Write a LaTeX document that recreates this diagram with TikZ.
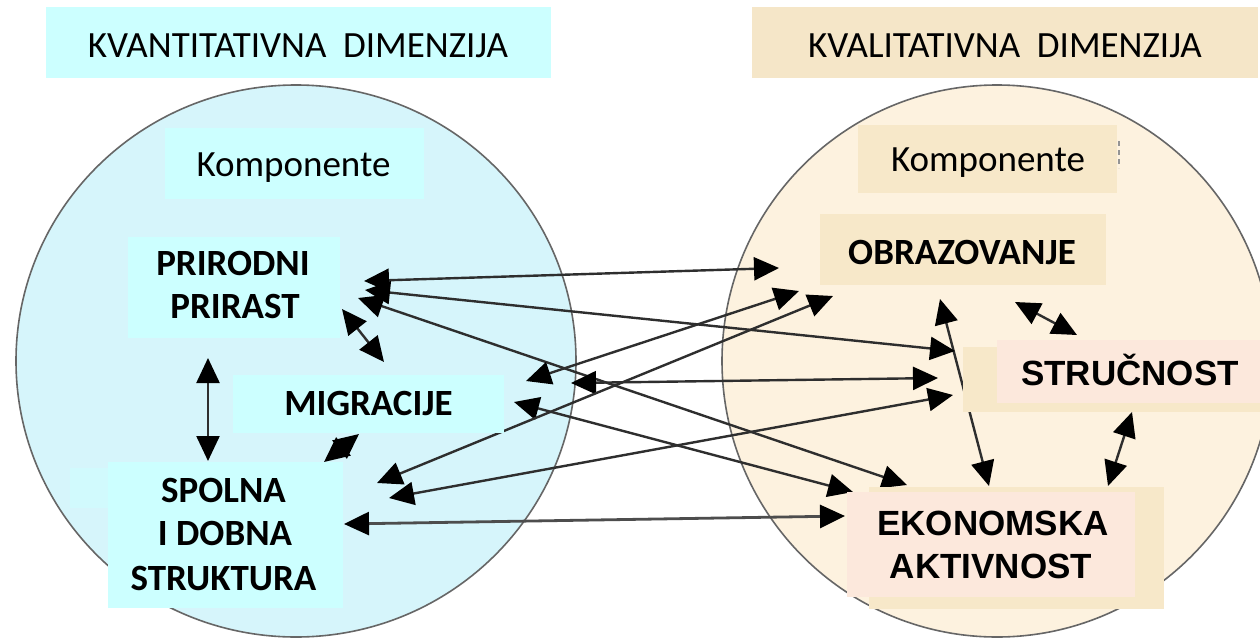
\documentclass[tikz,border=0pt]{standalone}
\usepackage{fontspec}
\setmainfont{Carlito}
\newfontfamily\arialfont{Liberation Sans}
\usetikzlibrary{arrows.meta}
\definecolor{cyantitle}{HTML}{CCFFFF}
\definecolor{cyancirc}{HTML}{D6F5FB}
\definecolor{cyanbox}{HTML}{CCFFFF}
\definecolor{tantitle}{HTML}{F5E6C8}
\definecolor{tancirc}{HTML}{FDF2DF}
\definecolor{tanbox}{HTML}{F7E8C9}
\definecolor{pinkbox}{HTML}{FCE8DC}
\definecolor{arrline}{HTML}{2E2E2E}
\definecolor{circline}{HTML}{666666}
\tikzset{
  bgbox/.style={draw=none, inner sep=0pt, outer sep=0pt, anchor=north west},
  reg/.style={font=\fontsize{37}{42}\selectfont, anchor=base, inner sep=0pt},
  bld/.style={font=\fontsize{37}{42}\selectfont\bfseries, anchor=base, inner sep=0pt},
  arl/.style={font=\fontsize{35}{42}\selectfont\arialfont\bfseries, anchor=base, inner sep=0pt},
  dbl/.style={draw=arrline, line width=2.4pt,
    {Triangle[length=25pt,width=23pt,color=black]}-{Triangle[length=25pt,width=23pt,color=black]}},
  circ/.style={draw=circline, line width=1.6pt}
}
\begin{document}
\begin{tikzpicture}[x=1pt,y=-1pt]
\useasboundingbox (0,0) rectangle (1260,637);
\clip (0,0) rectangle (1260,637);
\fill[white] (0,0) rectangle (1260,637);
% title boxes
\node[bgbox, fill=cyantitle, minimum width=505pt, minimum height=71pt] (tlbox) at (46,7) {};
\node[bgbox, fill=tantitle, minimum width=506pt, minimum height=71pt] (trbox) at (752,7) {};
% circles
\draw[circ, fill=cyancirc] (296,361) ellipse [x radius=280pt, y radius=276pt];
\draw[circ, fill=tancirc] (997,361) ellipse [x radius=275pt, y radius=276pt];
% endpoints
\coordinate (e1a) at (208,358); \coordinate (e1b) at (208,461);
\coordinate (e2a) at (342,309); \coordinate (e2b) at (384,362);
\coordinate (e3a) at (359,434); \coordinate (e3b) at (324,462);
\coordinate (e4a) at (1015,302); \coordinate (e4b) at (1077,335);
\coordinate (e5a) at (1132,412); \coordinate (e5b) at (1108,486);
\coordinate (e6a) at (940,299); \coordinate (e6b) at (989,486);
\coordinate (e7a) at (364,281); \coordinate (e7b) at (779,268);
\coordinate (e8a) at (365,290); \coordinate (e8b) at (955,351);
\coordinate (e9a) at (358,298); \coordinate (e9b) at (907,485);
\coordinate (e10a) at (526,381); \coordinate (e10b) at (799,291);
\coordinate (e11a) at (571,383); \coordinate (e11b) at (938,378);
\coordinate (e12a) at (514,402); \coordinate (e12b) at (853,492);
\coordinate (e13a) at (377,483); \coordinate (e13b) at (833,296);
\coordinate (e14a) at (389,498); \coordinate (e14b) at (953,395);
\coordinate (e15a) at (344,524); \coordinate (e15b) at (845,516);
% arrows
\draw[dbl] (e1a) -- (e1b);
\draw[dbl] (e2a) -- (e2b);
\draw[dbl] (e3a) -- (e3b);
\draw[dbl] (e4a) -- (e4b);
\draw[dbl] (e5a) -- (e5b);
\draw[dbl] (e6a) -- (e6b);
\draw[dbl] (e7a) -- (e7b);
\draw[dbl] (e8a) -- (e8b);
\draw[dbl] (e9a) -- (e9b);
\draw[dbl] (e10a) -- (e10b);
\draw[dbl] (e11a) -- (e11b);
\draw[dbl] (e12a) -- (e12b);
\draw[dbl] (e13a) -- (e13b);
\draw[dbl] (e14a) -- (e14b);
\draw[dbl, line width=2.8pt, draw=arrline!85] (e15a) -- (e15b);
% left boxes
\node[bgbox, fill=cyanbox, minimum width=259pt, minimum height=71pt] (klbox) at (165,128) {};
\node[bgbox, fill=cyanbox, minimum width=212pt, minimum height=101pt] (ppbox) at (128,237) {};
\node[bgbox, fill=cyanbox, minimum width=271pt, minimum height=58pt] (migbox) at (233,375) {};
\node[bgbox, fill=cyanbox!50!cyancirc, minimum width=38pt, minimum height=40pt] (spext) at (70,468) {};
\node[bgbox, fill=cyanbox, minimum width=235pt, minimum height=146pt] (spbox) at (108,462) {};
% right boxes
\node[bgbox, fill=tanbox, minimum width=259pt, minimum height=68pt] (krbox) at (858,125) {};
\node[bgbox, fill=tanbox, minimum width=286pt, minimum height=71pt] (obrbox) at (820,214) {};
\node[bgbox, fill=tanbox, minimum width=297pt, minimum height=65pt] (strbox) at (963,347) {};
\node[bgbox, fill=pinkbox, minimum width=263pt, minimum height=63pt] (strin) at (997,340) {};
\node[bgbox, fill=tanbox, minimum width=295pt, minimum height=122pt] (ekobox) at (869,487) {};
\node[bgbox, fill=pinkbox, minimum width=288pt, minimum height=105pt] (ekoin) at (847,492) {};
\draw[circline!70, line width=1.2pt, dash pattern=on 5pt off 4pt] (1119,141) -- (1119,168);
% texts
\node[reg] (tl) at (298,57) {KVANTITATIVNA\ \ DIMENZIJA};
\node[reg] (tr) at (1005,57) {KVALITATIVNA\ \ DIMENZIJA};
\node[reg] (kl) at (293.5,176) {Komponente};
\node[reg] (kr) at (988,171) {Komponente};
\node[bld] (pp1) at (233,275) {PRIRODNI};
\node[bld] (pp2) at (235,318) {PRIRAST};
\node[bld] (mig) at (368.5,415) {MIGRACIJE};
\node[bld] (sp1) at (223.5,502) {SPOLNA};
\node[bld] (sp2) at (225,545) {I DOBNA};
\node[bld] (sp3) at (223.5,590) {STRUKTURA};
\node[bld] (obr) at (962,264) {OBRAZOVANJE};
\node[arl] (str) at (1130,385) {STRUČNOST};
\node[arl] (eko1) at (993,535) {EKONOMSKA};
\node[arl] (eko2) at (991,578) {AKTIVNOST};
\end{tikzpicture}
\end{document}
